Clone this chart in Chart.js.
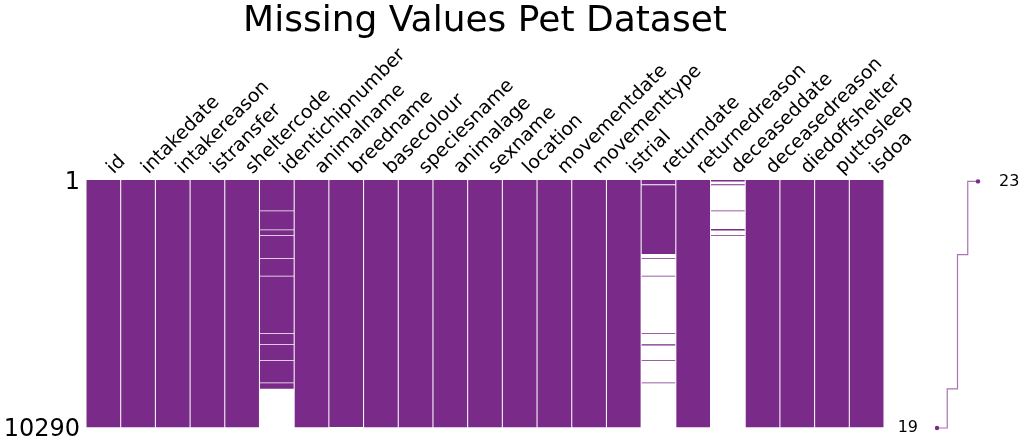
<!DOCTYPE html>
<html>
<head>
<meta charset="utf-8">
<script src="https://cdn.jsdelivr.net/npm/chart.js@4/dist/chart.umd.min.js"></script>
<style>
  html, body { margin: 0; padding: 0; background: #ffffff; }
  #wrap { position: relative; width: 1024px; height: 448px; }
  #wrap canvas { position: absolute; left: 0; top: 0; }
</style>
</head>
<body>
<div id="wrap">
  <canvas id="matrix" width="1024" height="448"></canvas>
  <canvas id="spark" width="1024" height="448"></canvas>
</div>
<script>
// ---------------- data ----------------
const titleText = 'Missing Values Pet Dataset';
const columns = ['id', 'intakedate', 'intakereason', 'istransfer', 'sheltercode',
  'identichipnumber', 'animalname', 'breedname', 'basecolour', 'speciesname',
  'animalage', 'sexname', 'location', 'movementdate', 'movementtype', 'istrial',
  'returndate', 'returnedreason', 'deceaseddate', 'deceasedreason',
  'diedoffshelter', 'puttosleep', 'isdoa'];
const rowCount = 10290;
const rowTicks = [1, 10290];

// missing row ranges, per column with gaps
const missingIdentichipnumber = [[1270, 1300], [2060, 2090], [2300, 2330], [3250, 3280],
  [3980, 4010], [6360, 6390], [6830, 6860], [7480, 7510], [8420, 8450], [8672, 10290]];
const missingBreedname = [[10260, 10290]];
const missingReturndate = [[180, 215], [3080, 3250], [3280, 3980], [4010, 6360],
  [6390, 6830], [6875, 7480], [7510, 8420], [8450, 10290]];
const missingDeceaseddate = [[60, 180], [215, 1270], [1300, 2040], [2100, 2300], [2330, 10290]];

// sparkline: row completeness (non-null count) along rows
const sparkRows   = [60, 60, 3100, 3100, 8670, 8670, 10290, 10290];
const sparkValues = [23, 22, 22,   21,   21,   20,   20,    19];

// ---------------- build ----------------
const missingByColumn = {
  identichipnumber: missingIdentichipnumber,
  breedname: missingBreedname,
  returndate: missingReturndate,
  deceaseddate: missingDeceaseddate
};

const presentSegments = [];
columns.forEach(col => {
  const miss = (missingByColumn[col] || []).slice().sort((a, b) => a[0] - b[0]);
  let cur = 1;
  miss.forEach(([a, b]) => {
    if (a > cur) presentSegments.push({ x: col, y: [cur, a] });
    cur = Math.max(cur, b);
  });
  if (cur < rowCount) presentSegments.push({ x: col, y: [cur, rowCount] });
});

const PURPLE = 'rgb(122, 42, 137)';
Chart.defaults.font.family = "'DejaVu Sans', sans-serif";
Chart.defaults.color = '#000000';

new Chart(document.getElementById('matrix'), {
  type: 'bar',
  data: {
    labels: columns,
    datasets: [{
      data: presentSegments,
      backgroundColor: PURPLE,
      borderWidth: 0,
      grouped: false,
      barPercentage: 1,
      categoryPercentage: 0.97
    }]
  },
  options: {
    responsive: false,
    animation: false,
    devicePixelRatio: 1,
    layout: { padding: { left: 0, right: 140, top: 0, bottom: 20 } },
    plugins: {
      legend: { display: false },
      tooltip: { enabled: false },
      title: {
        display: true,
        fullSize: false,
        text: titleText,
        color: '#000000',
        font: { size: 36, weight: 'normal' },
        padding: { top: 0, bottom: 0 }
      }
    },
    scales: {
      x: {
        position: 'top',
        grid: { display: false, drawTicks: false },
        border: { display: false },
        ticks: {
          autoSkip: false,
          maxRotation: 45,
          minRotation: 45,
          padding: 1,
          labelOffset: 23,
          color: '#000000',
          font: { size: 19 }
        },
        afterFit(scale) { scale.height = 136.8; }
      },
      y: {
        reverse: true,
        min: 1,
        max: rowCount,
        grid: { display: false, drawTicks: false },
        border: { display: false },
        afterBuildTicks(axis) { axis.ticks = rowTicks.map(v => ({ value: v })); },
        ticks: {
          padding: 6,
          labelOffset: 2.5,
          color: '#000000',
          font: { size: 24 },
          callback: (v) => String(v)
        },
        afterFit(scale) { scale.width = 86; }
      }
    }
  }
});

// sparkline
const sparkPoints = sparkRows.map((r, i) => ({ x: sparkValues[i], y: r }));
const lastIdx = sparkPoints.length - 1;
const sparkLabels = {
  id: 'sparkLabels',
  afterDatasetsDraw(chart) {
    const ctx = chart.ctx;
    const xs = chart.scales.x, ys = chart.scales.y;
    const maxV = Math.max(...sparkValues), minV = Math.min(...sparkValues);
    const iMax = sparkValues.indexOf(maxV), iMin = sparkValues.lastIndexOf(minV);
    ctx.save();
    ctx.fillStyle = '#000000';
    ctx.font = "16px 'DejaVu Sans', sans-serif";
    ctx.textBaseline = 'middle';
    ctx.textAlign = 'left';
    ctx.fillText(String(maxV), xs.getPixelForValue(maxV) + 21, ys.getPixelForValue(sparkRows[iMax]));
    ctx.textAlign = 'right';
    ctx.fillText(String(minV), xs.getPixelForValue(minV) - 19, ys.getPixelForValue(sparkRows[iMin]));
    ctx.restore();
  }
};

new Chart(document.getElementById('spark'), {
  type: 'line',
  data: {
    datasets: [{
      data: sparkPoints,
      borderColor: 'rgba(122, 42, 137, 0.65)',
      borderWidth: 1.2,
      pointRadius: sparkPoints.map((p, i) => (i === 0 || i === lastIdx) ? 2.2 : 0),
      pointBackgroundColor: PURPLE,
      pointBorderWidth: 0,
      fill: false,
      tension: 0,
      clip: false
    }]
  },
  options: {
    responsive: false,
    animation: false,
    devicePixelRatio: 1,
    layout: { padding: { left: 937, right: 46, top: 180, bottom: 20 } },
    plugins: { legend: { display: false }, tooltip: { enabled: false }, title: { display: false } },
    scales: {
      x: { type: 'linear', min: 19, max: 23, display: false },
      y: { type: 'linear', reverse: true, min: 1, max: rowCount, display: false }
    }
  },
  plugins: [sparkLabels]
});
</script>
</body>
</html>
